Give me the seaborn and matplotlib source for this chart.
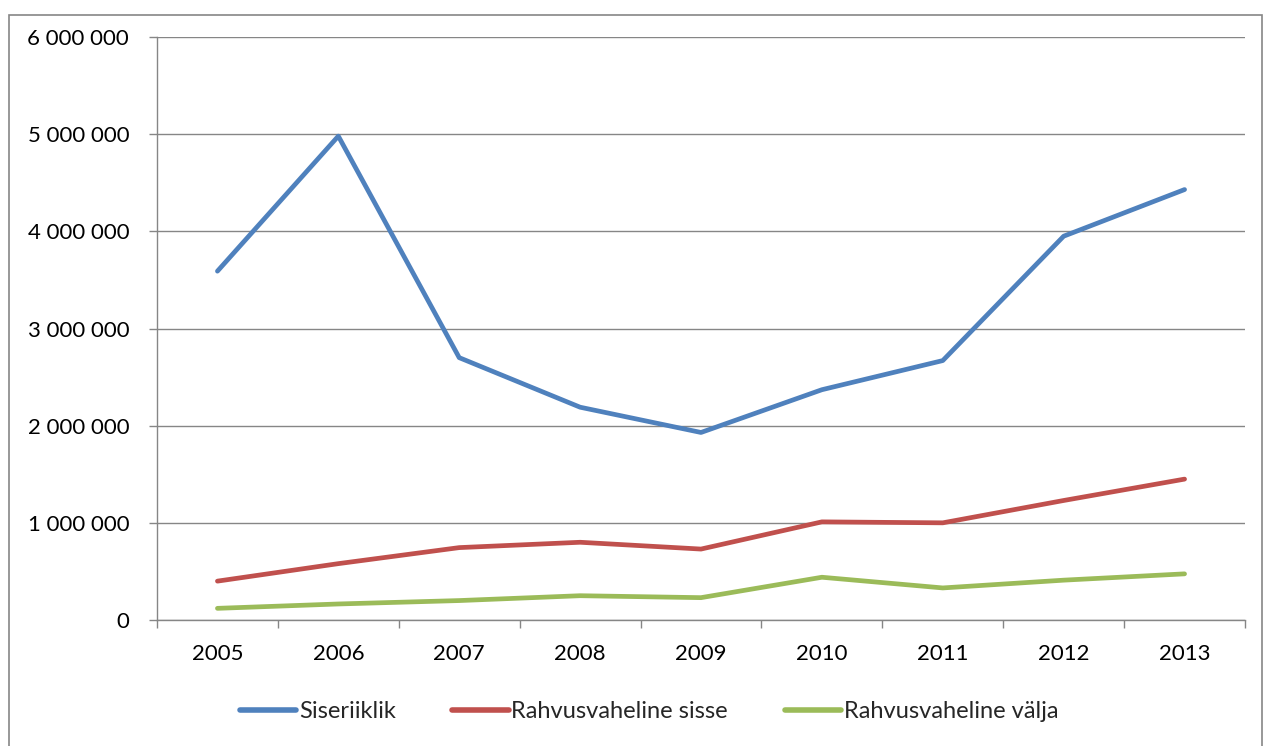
import matplotlib
matplotlib.use("Agg")
import matplotlib.pyplot as plt
import seaborn as sns
import pandas as pd
from matplotlib.patches import Rectangle
from matplotlib.ticker import FuncFormatter, FixedLocator

# Data
years = ["2005", "2006", "2007", "2008", "2009", "2010", "2011", "2012", "2013"]
siseriiklik = [3590000, 4980000, 2700000, 2190000, 1930000, 2370000, 2670000, 3950000, 4430000]
rahv_sisse = [400000, 580000, 745000, 800000, 730000, 1010000, 1000000, 1230000, 1450000]
rahv_valja = [120000, 165000, 200000, 250000, 230000, 440000, 330000, 410000, 475000]

series_names = ["Siseriiklik", "Rahvusvaheline sisse", "Rahvusvaheline välja"]
colors = ["#4F81BD", "#C0504D", "#9BBB59"]

rows = []
for name, vals in zip(series_names, [siseriiklik, rahv_sisse, rahv_valja]):
    for i, v in enumerate(vals):
        rows.append({"pos": i, "value": v, "series": name})
df = pd.DataFrame(rows)

sns.set_theme(style="white")
plt.rcParams["font.family"] = ["Lato", "DejaVu Sans"]

fig = plt.figure(figsize=(12.65, 7.46), dpi=100)
ax = fig.add_axes([0.1241, 0.1689, 0.8601, 0.7815])

# outer chart frame
fig.patches.append(Rectangle((0.0071, -0.01), 0.9905, 0.9899, transform=fig.transFigure,
                             fill=False, edgecolor="#868686", linewidth=1.2))

sns.lineplot(data=df, x="pos", y="value", hue="series", hue_order=series_names,
             palette=colors, linewidth=3.4, ax=ax, legend=False)

ax.set_xlim(-0.5, len(years) - 0.5)
ax.set_ylim(0, 6000000)
ax.set_yticks(range(0, 6000001, 1000000))
ax.yaxis.set_major_formatter(FuncFormatter(lambda v, p: f"{int(v):,}".replace(",", " ")))
ax.set_xticks(range(len(years)))
ax.set_xticklabels(years)
ax.xaxis.set_minor_locator(FixedLocator([i - 0.5 for i in range(len(years) + 1)]))
ax.tick_params(axis="x", which="major", length=0, pad=17, labelsize=16, colors="black")
ax.tick_params(axis="x", which="minor", length=6, width=1, color="#868686", direction="out", bottom=True)
ax.tick_params(axis="y", length=6, width=1, color="#868686", direction="out", left=True,
               pad=14, labelsize=16, labelcolor="black")
ax.set_xlabel("")
ax.set_ylabel("")

ax.grid(axis="y", color="#868686", linewidth=1)
ax.set_axisbelow(True)
for side in ["top", "right"]:
    ax.spines[side].set_visible(False)
for side in ["left", "bottom"]:
    ax.spines[side].set_color("#868686")
    ax.spines[side].set_linewidth(1)

handles = [plt.Line2D([0], [0], color=c, linewidth=4, solid_capstyle="round") for c in colors]
fig.legend(handles, series_names, loc="center", bbox_to_anchor=(0.513, 0.046), ncol=3,
           frameon=False, fontsize=17, handlelength=2.4, handletextpad=0.1, columnspacing=2.4)

fig.savefig("out.png", dpi=100)
